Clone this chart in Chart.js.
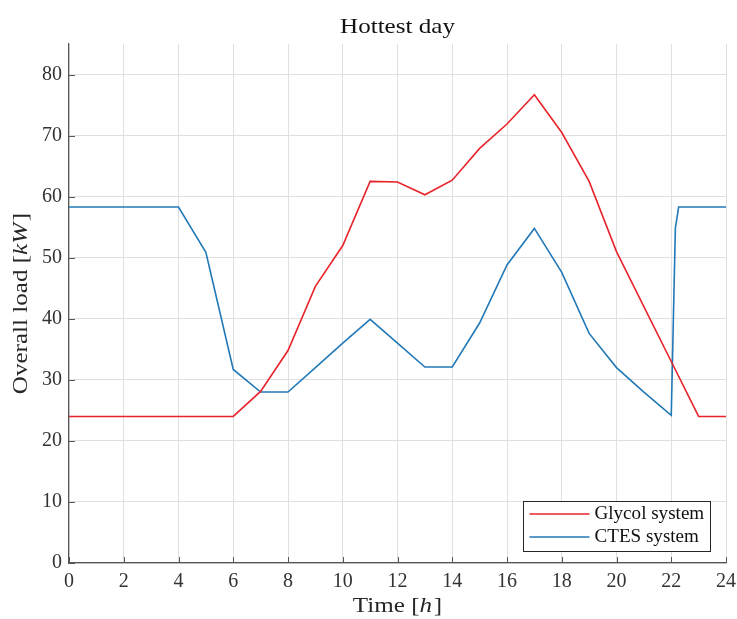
<!DOCTYPE html>
<html>
<head>
<meta charset="utf-8">
<script src="https://cdn.jsdelivr.net/npm/chart.js@4.4.1/dist/chart.umd.min.js"></script>
<style>
  html, body { margin: 0; padding: 0; background: #fff; }
  #wrap { width: 737px; height: 619px; }
</style>
</head>
<body>
<div id="wrap"><canvas id="loadChart" width="737" height="619"></canvas></div>
<script>
// Hourly load for the hottest day
const hours = [0, 1, 2, 3, 4, 5, 6, 7, 8, 9, 10, 11, 12, 13, 14, 15, 16, 17, 18, 19, 20, 21, 22, 23, 24];
const glycolLoad = [24, 24, 24, 24, 24, 24, 24, 28.1, 34.8, 45.3, 52, 62.5, 62.4, 60.3, 62.7, 67.9, 71.9, 76.7, 70.5, 62.5, 51, 42, 33, 24, 24];

// CTES has a recharge jump just after 22 h
const ctesHours = [0, 1, 2, 3, 4, 5, 6, 7, 8, 9, 10, 11, 12, 13, 14, 15, 16, 17, 18, 19, 20, 21, 22, 22.15, 22.27, 23, 24];
const ctesLoad = [58.3, 58.3, 58.3, 58.3, 58.3, 50.9, 31.7, 28, 28, 32, 36, 39.9, 36, 32.1, 32.1, 39.3, 48.8, 54.8, 47.6, 37.6, 32, 28, 24.2, 54.8, 58.3, 58.3, 58.3];

const xTicks = [0, 2, 4, 6, 8, 10, 12, 14, 16, 18, 20, 22, 24];
const yTicks = [0, 10, 20, 30, 40, 50, 60, 70, 80];

const SERIF = "'Liberation Serif', 'DejaVu Serif', serif";
const AXIS_COLOR = "#555";
const TEXT_COLOR = "#262626";

function toPoints(xs, ys) {
  return xs.map((x, i) => ({ x: x, y: ys[i] }));
}

// draws a string made of plain / italic pieces, centred at (cx, cy),
// stretched a little sideways so the serif face runs as wide as TeX's
function drawRich(ctx, parts, cx, cy, size, stretch) {
  stretch = stretch || 1;
  const fonts = parts.map(p => (p.italic ? "italic " : "") + size + "px " + SERIF);
  let total = 0;
  const widths = parts.map((p, i) => {
    ctx.font = fonts[i];
    const w = ctx.measureText(p.text).width + (p.italic ? 1.5 : 0);
    total += w;
    return w;
  });
  ctx.save();
  ctx.translate(cx, cy);
  ctx.scale(stretch, 1);
  let x = -total / 2;
  ctx.textBaseline = "middle";
  ctx.textAlign = "left";
  parts.forEach((p, i) => {
    ctx.font = fonts[i];
    ctx.fillText(p.text, x, 0);
    x += widths[i];
  });
  ctx.restore();
}

const decorations = {
  id: "decorations",
  afterDraw(chart) {
    const ctx = chart.ctx;
    const area = chart.chartArea;
    const xs = chart.scales.x;
    const ys = chart.scales.y;
    ctx.save();

    // inward tick marks
    ctx.strokeStyle = AXIS_COLOR;
    ctx.lineWidth = 1;
    ctx.beginPath();
    xTicks.forEach(t => {
      const px = Math.round(xs.getPixelForValue(t)) + 0.5;
      ctx.moveTo(px, area.bottom);
      ctx.lineTo(px, area.bottom - 6);
    });
    yTicks.forEach(t => {
      const py = Math.round(ys.getPixelForValue(t)) + 0.5;
      ctx.moveTo(area.left, py);
      ctx.lineTo(area.left + 6, py);
    });
    ctx.stroke();

    // title and axis labels
    const cx = (area.left + area.right) / 2;
    ctx.fillStyle = "#111";
    drawRich(ctx, [{ text: "Hottest day" }], cx, 27, 22, 1.14);
    ctx.fillStyle = TEXT_COLOR;
    drawRich(ctx, [{ text: "Time [" }, { text: "h", italic: true }, { text: "]" }], cx, 606, 22, 1.14);
    ctx.save();
    ctx.translate(21, (area.top + area.bottom) / 2);
    ctx.rotate(-Math.PI / 2);
    drawRich(ctx, [{ text: "Overall load [" }, { text: "kW", italic: true }, { text: "]" }], 0, 0, 22, 1.14);
    ctx.restore();

    // legend box in the lower right corner
    const bx = 523.5, by = 501.5, bw = 187, bh = 50;
    ctx.fillStyle = "#fff";
    ctx.fillRect(bx, by, bw, bh);
    ctx.strokeStyle = "#262626";
    ctx.lineWidth = 1;
    ctx.strokeRect(bx, by, bw, bh);
    chart.data.datasets.forEach((ds, i) => {
      const ly = by + 12.5 + i * 23;
      ctx.strokeStyle = ds.borderColor;
      ctx.lineWidth = 1.6;
      ctx.beginPath();
      ctx.moveTo(bx + 6, ly);
      ctx.lineTo(bx + 66, ly);
      ctx.stroke();
      ctx.fillStyle = "#111";
      ctx.save();
      ctx.translate(bx + 71, ly);
      ctx.scale(1.06, 1);
      ctx.font = "18px " + SERIF;
      ctx.textAlign = "left";
      ctx.textBaseline = "middle";
      ctx.fillText(ds.label, 0, 0);
      ctx.restore();
    });
    ctx.restore();
  }
};

new Chart(document.getElementById("loadChart"), {
  type: "line",
  data: {
    datasets: [
      {
        label: "Glycol system",
        data: toPoints(hours, glycolLoad),
        borderColor: "#e8232a",
        borderWidth: 1.6,
        pointRadius: 0,
        tension: 0,
        fill: false
      },
      {
        label: "CTES system",
        data: toPoints(ctesHours, ctesLoad),
        borderColor: "#2279b8",
        borderWidth: 1.6,
        pointRadius: 0,
        tension: 0,
        fill: false
      }
    ]
  },
  options: {
    responsive: false,
    animation: false,
    layout: { padding: { top: 44, right: 11, left: 0, bottom: 0 } },
    plugins: {
      legend: { display: false },
      title: { display: false },
      tooltip: { enabled: false }
    },
    scales: {
      x: {
        type: "linear",
        min: 0,
        max: 24,
        afterFit(scale) {
          scale.height = 56;
          scale.paddingLeft = 0;
          scale.paddingRight = 0;
        },
        afterBuildTicks(scale) { scale.ticks = xTicks.map(v => ({ value: v })); },
        ticks: {
          font: { family: SERIF, size: 20 },
          color: "#333",
          padding: 7,
          maxRotation: 0
        },
        grid: { color: "#e0e0e0", drawTicks: false, lineWidth: 1 },
        border: { display: true, color: AXIS_COLOR, width: 1.2 }
      },
      y: {
        type: "linear",
        min: 0,
        max: 85,
        afterFit(scale) {
          scale.width = 69;
          scale.paddingTop = 0;
          scale.paddingBottom = 0;
        },
        afterBuildTicks(scale) { scale.ticks = yTicks.map(v => ({ value: v })); },
        ticks: {
          font: { family: SERIF, size: 20 },
          color: "#333",
          padding: 7
        },
        grid: { color: "#e0e0e0", drawTicks: false, lineWidth: 1 },
        border: { display: true, color: AXIS_COLOR, width: 1.2 }
      }
    }
  },
  plugins: [decorations]
});
</script>
</body>
</html>
